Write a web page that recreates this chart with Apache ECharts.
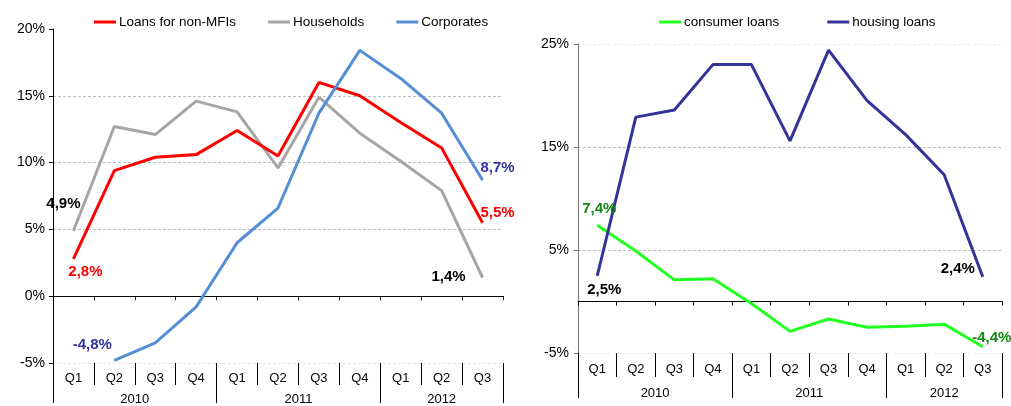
<!DOCTYPE html>
<html>
<head>
    <meta charset="utf-8"/>
    <title>Loans growth</title>
    <script src="https://cdn.jsdelivr.net/npm/echarts@6/dist/echarts.min.js"></script>
    <style>
        html, body { margin: 0; padding: 0; background: #fff; }
        #chart { width: 1011px; height: 406px; }
    </style>
</head>
<body>
<div id="chart"></div>
<script>
    // quarters 2010 Q1 .. 2012 Q3
    var quarters = ['Q1', 'Q2', 'Q3', 'Q4', 'Q1', 'Q2', 'Q3', 'Q4', 'Q1', 'Q2', 'Q3'];
    var years = ['2010', '2011', '2012'];
    var quartersPerYear = [4, 4, 3];

    var loansNonMFI = [2.8, 9.4, 10.4, 10.6, 12.4, 10.5, 16.0, 15.0, 13.0, 11.1, 5.5];
    var households = [4.9, 12.7, 12.1, 14.6, 13.8, 9.6, 14.9, 12.2, 10.1, 7.9, 1.4];
    var corporates = [null, -4.8, -3.5, -0.8, 4.0, 6.6, 13.7, 18.4, 16.3, 13.7, 8.7];

    var consumerLoans = [7.4, 4.9, 2.1, 2.2, -0.2, -2.9, -1.7, -2.5, -2.4, -2.2, -4.4];
    var housingLoans = [2.5, 17.9, 18.6, 23.0, 23.0, 15.6, 24.4, 19.5, 16.2, 12.3, 2.4];

    // year axis: half-quarter slots so the labels sit in the middle of each year
    var yearSlots = [];
    var yearBounds = [];
    var start = 0;
    for (var i = 0; i <= quarters.length * 2; i++) yearSlots.push('');
    years.forEach(function (y, k) {
        yearBounds.push(start * 2);
        yearSlots[start * 2 + quartersPerYear[k]] = y;
        start += quartersPerYear[k];
    });
    yearBounds.push(start * 2);

    var font = 'Liberation Sans, Arial, sans-serif';

    function fmt(p) {
        return p.value.toFixed(1).replace('.', ',') + '%';
    }

    function withLabels(values, labels) {
        return values.map(function (v, i) {
            if (!labels[i]) return v;
            return {
                value: v,
                label: Object.assign({
                    show: true, position: 'inside', formatter: fmt,
                    fontSize: 15, fontWeight: 'bold', fontFamily: font
                }, labels[i])
            };
        });
    }

    function xAxes(grid, qMargin, qTick, yMargin, yTick) {
        return [
            {
                gridIndex: grid, type: 'category', data: quarters, boundaryGap: true,
                axisLine: {onZero: true, lineStyle: {color: '#000', width: 1}},
                axisTick: {show: true, length: 4, lineStyle: {color: '#000'}},
                axisLabel: {show: false}, splitLine: {show: false}
            },
            {
                gridIndex: grid, type: 'category', data: quarters, boundaryGap: true, position: 'bottom',
                axisLine: {show: false, onZero: false},
                axisTick: {show: true, length: qTick, lineStyle: {color: '#000'}},
                axisLabel: {show: true, interval: 0, margin: qMargin, color: '#000', fontSize: 13, fontFamily: font},
                splitLine: {show: false}
            },
            {
                gridIndex: grid, type: 'category', data: yearSlots, boundaryGap: false, position: 'bottom',
                axisLine: {show: false, onZero: false},
                axisTick: {
                    show: true, length: yTick, lineStyle: {color: '#000'},
                    interval: function (idx) { return yearBounds.indexOf(idx) >= 0; }
                },
                axisLabel: {show: true, interval: 0, margin: yMargin, color: '#000', fontSize: 13, fontFamily: font},
                splitLine: {show: false}
            }
        ];
    }

    var myChart = echarts.init(document.getElementById('chart'));
    var option = {
        animation: false,
        textStyle: {fontFamily: font},
        grid: [
            {left: 53, right: 508, top: 29, bottom: 40},
            {left: 578, right: 9, top: 44, bottom: 53}
        ],
        legend: [
            {
                data: ['Loans for non-MFIs', 'Households', 'Corporates'],
                left: 89, top: 10, icon: 'rect', itemWidth: 22, itemHeight: 3, itemGap: 32,
                textStyle: {fontSize: 13.5, color: '#000', fontFamily: font, padding: [0, 0, 0, -2]}
            },
            {
                data: ['consumer loans', 'housing loans'],
                left: 654, top: 10, icon: 'rect', itemWidth: 22, itemHeight: 3, itemGap: 48,
                textStyle: {fontSize: 13.5, color: '#000', fontFamily: font, padding: [0, 0, 0, -2]}
            }
        ],
        xAxis: xAxes(0, 9, 22, 30, 40).concat(xAxes(1, 10, 24, 34, 45)),
        yAxis: [
            {
                gridIndex: 0, type: 'value', min: -5, max: 20, interval: 5,
                axisLine: {show: true, onZero: false, lineStyle: {color: '#000'}},
                axisTick: {show: true, length: 4, lineStyle: {color: '#000'}},
                axisLabel: {formatter: '{value}%', color: '#000', fontSize: 14, margin: 8, fontFamily: font},
                splitLine: {
                    show: true,
                    lineStyle: {
                        type: [3, 2], width: 1,
                        color: ['#e8e8e8', 'rgba(0,0,0,0)', '#bdbdbd', '#bdbdbd', '#bdbdbd', 'rgba(0,0,0,0)']
                    }
                }
            },
            {
                gridIndex: 1, type: 'value', min: -5, max: 25, interval: 10,
                axisLine: {show: true, onZero: false, lineStyle: {color: '#777'}},
                axisTick: {show: true, length: 4, lineStyle: {color: '#777'}},
                axisLabel: {formatter: '{value}%', color: '#000', fontSize: 14, margin: 9, fontFamily: font},
                splitLine: {
                    show: true,
                    lineStyle: {
                        type: [3, 2], width: 1,
                        color: ['#ececec', '#bdbdbd', '#bdbdbd', '#ececec']
                    }
                }
            }
        ],
        series: [
            {
                name: 'Households', type: 'line', xAxisIndex: 0, yAxisIndex: 0,
                symbol: 'circle', symbolSize: 1, lineStyle: {color: '#a6a6a6', width: 3}, itemStyle: {color: '#a6a6a6'},
                data: withLabels(households, {
                    0: {offset: [-10, -27], color: '#000'},
                    10: {offset: [-34, -1], color: '#000'}
                })
            },
            {
                name: 'Loans for non-MFIs', type: 'line', xAxisIndex: 0, yAxisIndex: 0,
                symbol: 'circle', symbolSize: 1, lineStyle: {color: '#ff0000', width: 3}, itemStyle: {color: '#ff0000'},
                data: withLabels(loansNonMFI, {
                    0: {offset: [12, 13], color: '#ff0000'},
                    10: {offset: [15, -10], color: '#ff0000'}
                })
            },
            {
                name: 'Corporates', type: 'line', xAxisIndex: 0, yAxisIndex: 0,
                symbol: 'circle', symbolSize: 1, lineStyle: {color: '#558ed5', width: 3}, itemStyle: {color: '#558ed5'},
                data: withLabels(corporates, {
                    1: {offset: [-22, -15], color: '#333399'},
                    10: {offset: [15, -12], color: '#333399'}
                })
            },
            {
                name: 'consumer loans', type: 'line', xAxisIndex: 3, yAxisIndex: 1,
                symbol: 'circle', symbolSize: 1, lineStyle: {color: '#22ff22', width: 3}, itemStyle: {color: '#22ff22'},
                data: withLabels(consumerLoans, {
                    0: {offset: [2, -16], color: '#118811'},
                    10: {offset: [9, -9], color: '#118811'}
                })
            },
            {
                name: 'housing loans', type: 'line', xAxisIndex: 3, yAxisIndex: 1,
                symbol: 'circle', symbolSize: 1, lineStyle: {color: '#333399', width: 3}, itemStyle: {color: '#333399'},
                data: withLabels(housingLoans, {
                    0: {offset: [7, 14], color: '#000'},
                    10: {offset: [-25, -8], color: '#000'}
                })
            }
        ]
    };
    myChart.setOption(option);
</script>
</body>
</html>
